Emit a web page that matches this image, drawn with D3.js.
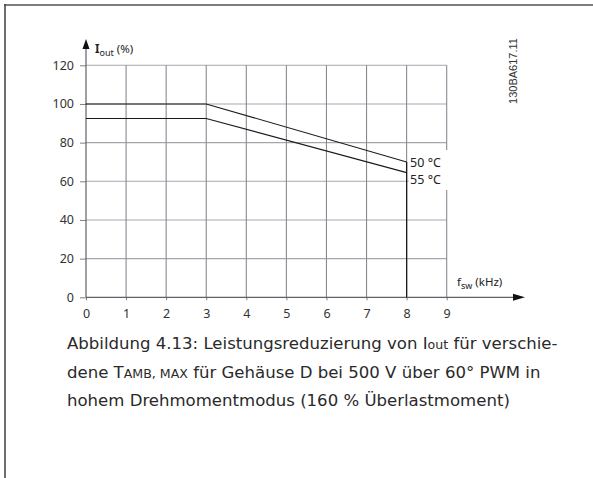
<!DOCTYPE html>
<html>
<head>
<meta charset="utf-8">
<script src="https://cdn.jsdelivr.net/npm/d3@7"></script>
<style>
  html, body { margin: 0; padding: 0; background: #fff; }
  svg { display: block; }
</style>
</head>
<body>
<svg id="chart" width="593" height="478"></svg>
<script>
// Switching frequency ticks (kHz) and output current ticks (%)
const xTicks = [0, 1, 2, 3, 4, 5, 6, 7, 8, 9];
const yTicks = [0, 20, 40, 60, 80, 100, 120];

// Derating curves: ambient temperature label and (f_sw, I_out) breakpoints
const seriesNames = ["50 °C", "55 °C"];
const freq50 = [0, 3, 8];
const iout50 = [100, 100, 70];
const freq55 = [0, 3, 8];
const iout55 = [92.5, 92.5, 64.5];

// Maximum switching frequency limit
const limitFreq = [8, 8];
const limitIout = [70, 0];

const captionLines = [
  [["Abbildung 4.13: Leistungsreduzierung von I", 1], ["out", 0.76], [" für verschie-", 1]],
  [["dene T", 1], ["AMB, MAX", 0.76], [" für Gehäuse D bei 500 V über 60° PWM in", 1]],
  [["hohem Drehmomentmodus (160 % Überlastmoment)", 1]]
];
const drawingCode = "130BA617.11";

const svg = d3.select("#chart");
const chartFont = "'Noto Sans', 'Open Sans', sans-serif";

const x = d3.scaleLinear().domain([0, 9]).range([86, 446.7]);
const y = d3.scaleLinear().domain([0, 120]).range([297.3, 65.3]);

// Page frame
svg.append("line").attr("x1", 4).attr("x2", 593).attr("y1", 5).attr("y2", 5)
  .attr("stroke", "#7d7d7d").attr("stroke-width", 2);
svg.append("line").attr("x1", 5).attr("x2", 5).attr("y1", 4).attr("y2", 478)
  .attr("stroke", "#4a4a4a").attr("stroke-width", 1.6);

// Grid
const grid = svg.append("g");
grid.selectAll("line.h").data(yTicks.filter(d => d > 0)).join("line")
  .attr("x1", x(0)).attr("x2", x(9))
  .attr("y1", d => y(d)).attr("y2", d => y(d))
  .attr("stroke", "#a3a7ad").attr("stroke-width", 1.1);
grid.selectAll("line.v").data(xTicks.filter(d => d > 0)).join("line")
  .attr("x1", d => x(d)).attr("x2", d => x(d))
  .attr("y1", y(0)).attr("y2", y(120))
  .attr("stroke", "#868b92").attr("stroke-width", 1.1);

// Y axis
const yAxis = svg.append("g").attr("transform", `translate(${x(0)},0)`)
  .call(d3.axisLeft(y).tickValues(yTicks).tickSize(6).tickPadding(6));
yAxis.select(".domain").remove();
yAxis.selectAll(".tick line").attr("stroke", "#7b8087");
yAxis.selectAll("text").attr("font-family", chartFont).attr("font-size", 12.5).attr("fill", "#333");

// X axis
const xAxis = svg.append("g").attr("transform", `translate(0,${y(0)})`)
  .call(d3.axisBottom(x).tickValues(xTicks).tickSize(3).tickPadding(9));
xAxis.select(".domain").remove();
xAxis.selectAll(".tick line").attr("stroke", "#7b8087");
xAxis.selectAll("text").attr("font-family", chartFont).attr("font-size", 12.5).attr("fill", "#333");

// Axis lines with arrowheads
svg.append("line").attr("x1", x(0)).attr("x2", 513).attr("y1", y(0)).attr("y2", y(0))
  .attr("stroke", "#5e6268").attr("stroke-width", 1.2);
svg.append("path").attr("d", `M513,${y(0) - 3.5} L525,${y(0)} L513,${y(0) + 3.5} Z`).attr("fill", "#111");
svg.append("line").attr("x1", x(0)).attr("x2", x(0)).attr("y1", y(0)).attr("y2", 48)
  .attr("stroke", "#5e6268").attr("stroke-width", 1.2);
svg.append("path").attr("d", `M${x(0) - 3.5},49 L${x(0)},39 L${x(0) + 3.5},49 Z`).attr("fill", "#111");
svg.append("rect").attr("x", x(0) - 0.5).attr("y", y(100) - 0.5).attr("width", 1.5).attr("height", 1.5).attr("fill", "#e0302a");

// Axis titles
const yTitle = svg.append("text").attr("x", 95).attr("y", 53)
  .attr("font-family", chartFont).attr("font-size", 11.5).attr("fill", "#222");
yTitle.append("tspan").attr("font-weight", "bold").text("I");
yTitle.append("tspan").attr("font-size", 9).attr("dy", 2.5).text("out");
yTitle.append("tspan").attr("dy", -2.5).text(" (%)");

const xTitle = svg.append("text").attr("x", 457).attr("y", 286)
  .attr("font-family", chartFont).attr("font-size", 11.5).attr("fill", "#222");
xTitle.append("tspan").text("f");
xTitle.append("tspan").attr("font-size", 9).attr("dy", 2.5).text("sw");
xTitle.append("tspan").attr("dy", -2.5).text(" (kHz)");

// Derating curves
const line = d3.line().x(d => x(d[0])).y(d => y(d[1]));
const curves = [d3.zip(freq50, iout50), d3.zip(freq55, iout55)];
svg.append("g").selectAll("path").data(curves).join("path")
  .attr("d", line).attr("fill", "none").attr("stroke", "#1a1a1a").attr("stroke-width", 1.1);
svg.append("path").datum(d3.zip(limitFreq, limitIout)).attr("d", line)
  .attr("fill", "none").attr("stroke", "#1a1a1a").attr("stroke-width", 1.3);

// Curve labels on a white patch
svg.append("rect").attr("x", x(8) + 2).attr("y", 150).attr("width", 46).attr("height", 40).attr("fill", "#fff");
svg.append("g").selectAll("text").data(seriesNames).join("text")
  .attr("x", x(8) + 3.5)
  .attr("y", (d, i) => i === 0 ? y(iout50[2]) + 5.5 : y(iout55[2]) + 11.5)
  .attr("font-family", chartFont).attr("font-size", 12.5).attr("fill", "#222")
  .text(d => d);

// Drawing reference code
svg.append("text").attr("transform", "translate(517,71) rotate(-90)")
  .attr("text-anchor", "middle").attr("font-family", "'Liberation Sans', Arial, sans-serif")
  .attr("font-size", 11).attr("fill", "#333").text(drawingCode);

// Figure caption, sized so the first line spans the text column
const capFont = "'DejaVu Sans', sans-serif";
const capLeft = 67, capRight = 558;
const cap = svg.append("g");
const texts = captionLines.map((parts, i) => {
  const t = cap.append("text").attr("x", capLeft).attr("y", 349 + i * 28.5)
    .attr("font-family", capFont).attr("fill", "#2a2a2a");
  parts.forEach(([s, k]) => t.append("tspan").datum(k).text(s));
  return t;
});
function setCapSize(size) {
  texts.forEach(t => t.selectAll("tspan").attr("font-size", k => size * k));
}
setCapSize(16);
const w = texts[0].node().getComputedTextLength();
setCapSize(16 * (capRight - capLeft) / w);
</script>
</body>
</html>
